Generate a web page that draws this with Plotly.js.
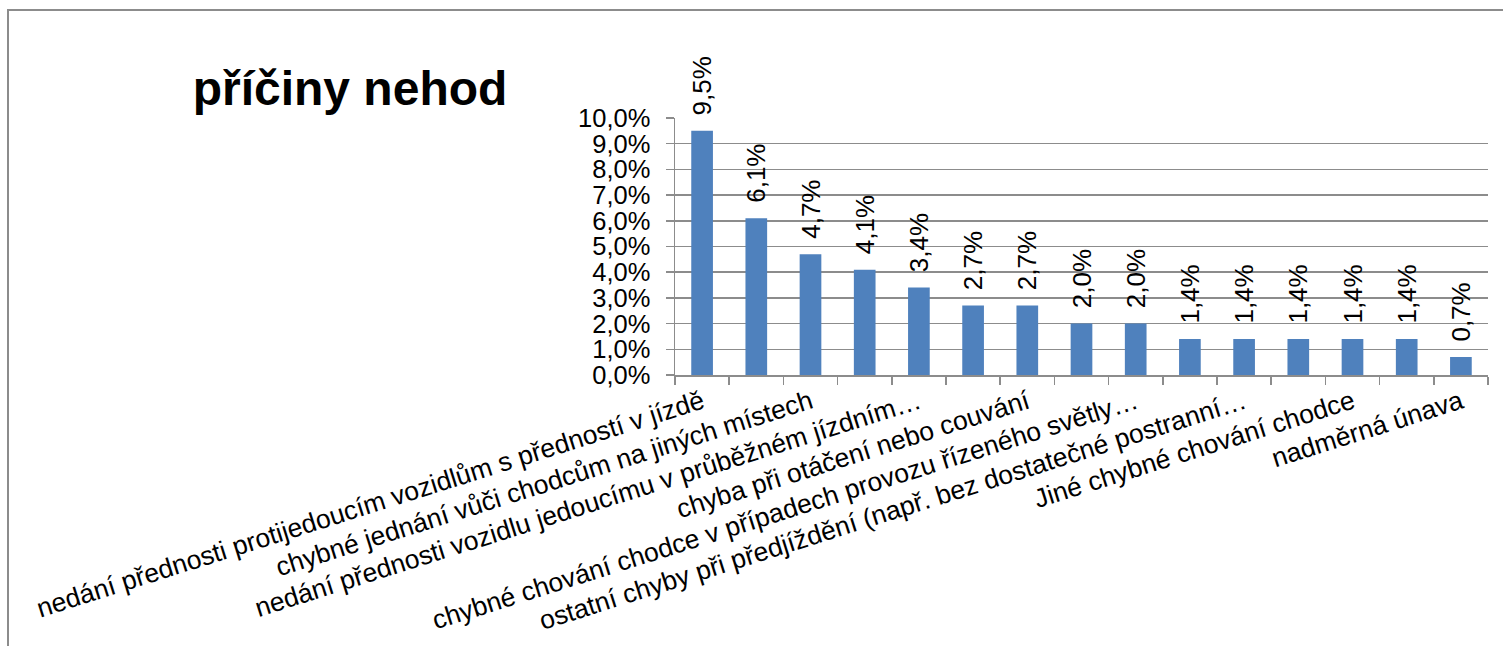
<!DOCTYPE html>
<html>
<head>
<meta charset="utf-8">
<script src="https://cdn.plot.ly/plotly-3.0.1.min.js"></script>
<style>
  html, body { margin: 0; padding: 0; background: #ffffff; }
  #frame {
    position: absolute; left: 7px; top: 9px; width: 1600px; height: 700px;
    border-left: 2px solid #8c8c8c; border-top: 2px solid #8c8c8c;
  }
  #chart { position: absolute; left: 0; top: 0; width: 1503px; height: 646px; }
</style>
</head>
<body>
<div id="frame"></div>
<div id="chart"></div>
<script>
// Causes of accidents, ordered by share
const categories = [
  "nedání přednosti protijedoucím vozidlům s předností v jízdě",
  "nedání přednosti chodci na vyznačeném přechodu",
  "chybné jednání vůči chodcům na jiných místech",
  "nepřizpůsobení rychlosti stavu vozovky",
  "nedání přednosti vozidlu jedoucímu v průběžném jízdním pruhu",
  "nezvládnutí řízení vozidla",
  "chyba při otáčení nebo couvání",
  "jízda po nesprávné straně vozovky",
  "chybné chování chodce v případech provozu řízeného světly",
  "nerespektování světelného signálu",
  "ostatní chyby při předjíždění (např. bez dostatečné postranní vzdálenosti)",
  "nedodržení bezpečné vzdálenosti za vozidlem",
  "Jiné chybné chování chodce",
  "řidič se plně nevěnoval řízení vozidla",
  "nadměrná únava"
];

// Share of each cause (fraction of all accidents)
const shares = [0.095, 0.061, 0.047, 0.041, 0.034, 0.027, 0.027, 0.020, 0.020, 0.014, 0.014, 0.014, 0.014, 0.014, 0.007];

// Axis labels as printed (every other category, long names shortened)
const axisLabels = [
  "nedání přednosti protijedoucím vozidlům s předností v jízdě",
  "",
  "chybné jednání vůči chodcům na jiných místech",
  "",
  "nedání přednosti vozidlu jedoucímu v průběžném jízdním…",
  "",
  "chyba při otáčení nebo couvání",
  "",
  "chybné chování chodce v případech provozu řízeného světly…",
  "",
  "ostatní chyby při předjíždění (např. bez dostatečné postranní…",
  "",
  "Jiné chybné chování chodce",
  "",
  "nadměrná únava"
];

const chartTitle = "příčiny nehod";

const FONT = "Liberation Sans, Arial, sans-serif";
const GRID = "#8c8c8c";

const trace = {
  type: "bar",
  x: categories,
  y: shares,
  width: 0.4,
  marker: { color: "#4f81bd" },
  texttemplate: "\u00a0\u2009%{y:.1%}",
  textposition: "outside",
  textangle: -90,
  constraintext: "none",
  cliponaxis: false,
  textfont: { family: FONT, size: 26, color: "#000000" },
  hoverinfo: "x+y"
};

const layout = {
  width: 1503,
  height: 646,
  margin: { l: 675, r: 15, t: 118, b: 271 },
  paper_bgcolor: "rgba(0,0,0,0)",
  plot_bgcolor: "rgba(0,0,0,0)",
  separators: ", ",
  showlegend: false,
  font: { family: FONT, color: "#000000" },
  title: {
    text: "<b>" + chartTitle + "</b>",
    font: { family: FONT, size: 48, color: "#000000" },
    xref: "container", yref: "container",
    x: 350 / 1503, xanchor: "center",
    y: 1 - 88 / 646, yanchor: "middle"
  },
  xaxis: {
    type: "category",
    tickmode: "array",
    tickvals: categories,
    ticktext: axisLabels,
    tickson: "boundaries",
    ticks: "outside",
    ticklen: 8,
    tickwidth: 1.5,
    tickcolor: GRID,
    tickangle: -17.5,
    tickfont: { family: FONT, size: 26.5, color: "#000000" },
    showline: true,
    linecolor: GRID,
    linewidth: 1.5,
    showgrid: false,
    zeroline: false,
    automargin: false
  },
  yaxis: {
    range: [0, 0.1],
    dtick: 0.01,
    tick0: 0,
    tickformat: ".1%",
    ticks: "outside",
    ticklen: 8,
    tickwidth: 1.5,
    tickcolor: GRID,
    ticklabelstandoff: 10,
    tickfont: { family: FONT, size: 25.5, color: "#000000" },
    showline: true,
    linecolor: GRID,
    linewidth: 1.5,
    showgrid: true,
    gridcolor: GRID,
    gridwidth: 1.5,
    zeroline: false,
    automargin: false
  },
  bargap: 0.6
};

Plotly.newPlot("chart", [trace], layout, { displayModeBar: false, staticPlot: true });
</script>
</body>
</html>
